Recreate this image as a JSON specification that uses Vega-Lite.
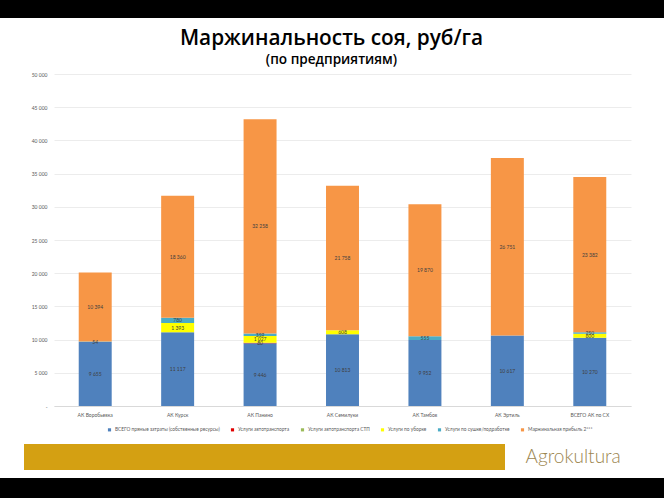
{
  "$schema": "https://vega.github.io/schema/vega-lite/v6.json",
  "background": "white",
  "padding": 0,
  "spacing": 0,
  "config": {
    "view": {"stroke": null},
    "font": "Lato",
    "locale": {"number": {"decimal": ",", "thousands": " ", "grouping": [3], "currency": ["", ""]}},
    "concat": {"spacing": 0}
  },
  "vconcat": [
    {
      "width": 664, "height": 18,
      "view": {"fill": "#000000", "stroke": null},
      "data": {"values": []},
      "mark": "text",
      "encoding": {"text": {"value": ""}}
    },
    {
      "width": 664, "height": 9,
      "data": {"values": []},
      "mark": "text",
      "encoding": {"text": {"value": ""}}
    },
    {
      "spacing": 0,
      "hconcat": [
        {
          "width": 31, "height": 10,
          "data": {"values": []},
          "mark": "text",
          "encoding": {"text": {"value": ""}}
        },
        {
          "width": 577, "height": 332,
          "title": {
            "text": "Маржинальность соя, руб/га",
            "subtitle": "(по предприятиям)",
            "anchor": "middle",
            "dx": -11,
            "font": "Open Sans",
            "fontSize": 20.8,
            "fontWeight": 600,
            "color": "#000000",
            "subtitleFont": "Open Sans",
            "subtitleFontSize": 13.6,
            "subtitleFontWeight": 600,
            "subtitleColor": "#000000",
            "subtitlePadding": 4,
            "offset": 4
          },
          "data": {
            "values": [
              {"c": "АК Воробьевка", "s": "ВСЕГО прямые затраты (собственные ресурсы)", "v": 9655, "i": 1},
              {"c": "АК Воробьевка", "s": "Услуги по сушке/подработке", "v": 54, "i": 5},
              {"c": "АК Воробьевка", "s": "Маржинальная прибыль 2***", "v": 10394, "i": 6},
              {"c": "АК Курск", "s": "ВСЕГО прямые затраты (собственные ресурсы)", "v": 11117, "i": 1},
              {"c": "АК Курск", "s": "Услуги по уборке", "v": 1393, "i": 4},
              {"c": "АК Курск", "s": "Услуги по сушке/подработке", "v": 780, "i": 5},
              {"c": "АК Курск", "s": "Маржинальная прибыль 2***", "v": 18360, "i": 6},
              {"c": "АК Панино", "s": "ВСЕГО прямые затраты (собственные ресурсы)", "v": 9446, "i": 1},
              {"c": "АК Панино", "s": "Услуги автотранспорта", "v": 80, "i": 2},
              {"c": "АК Панино", "s": "Услуги по уборке", "v": 1027, "i": 4},
              {"c": "АК Панино", "s": "Услуги по сушке/подработке", "v": 359, "i": 5},
              {"c": "АК Панино", "s": "Маржинальная прибыль 2***", "v": 32258, "i": 6},
              {"c": "АК Семилуки", "s": "ВСЕГО прямые затраты (собственные ресурсы)", "v": 10813, "i": 1},
              {"c": "АК Семилуки", "s": "Услуги по уборке", "v": 608, "i": 4},
              {"c": "АК Семилуки", "s": "Маржинальная прибыль 2***", "v": 21758, "i": 6},
              {"c": "АК Тамбов", "s": "ВСЕГО прямые затраты (собственные ресурсы)", "v": 9952, "i": 1},
              {"c": "АК Тамбов", "s": "Услуги по сушке/подработке", "v": 555, "i": 5},
              {"c": "АК Тамбов", "s": "Маржинальная прибыль 2***", "v": 19870, "i": 6},
              {"c": "АК Эртиль", "s": "ВСЕГО прямые затраты (собственные ресурсы)", "v": 10617, "i": 1},
              {"c": "АК Эртиль", "s": "Маржинальная прибыль 2***", "v": 26751, "i": 6},
              {"c": "ВСЕГО АК по СХ", "s": "ВСЕГО прямые затраты (собственные ресурсы)", "v": 10270, "i": 1},
              {"c": "ВСЕГО АК по СХ", "s": "Услуги по уборке", "v": 600, "i": 4},
              {"c": "ВСЕГО АК по СХ", "s": "Услуги по сушке/подработке", "v": 250, "i": 5},
              {"c": "ВСЕГО АК по СХ", "s": "Маржинальная прибыль 2***", "v": 23382, "i": 6}
            ]
          },
          "encoding": {
            "x": {
              "field": "c", "type": "nominal", "sort": null,
              "scale": {"paddingInner": 0.6, "paddingOuter": 0.3},
              "axis": {"title": null, "labelAngle": 0, "labelFontSize": 5, "labelColor": "#595959", "ticks": false, "domainColor": "#d9d9d9", "labelPadding": 6}
            },
            "y": {
              "field": "v", "type": "quantitative", "stack": "zero",
              "scale": {"domain": [0, 50000]},
              "axis": {"title": null, "values": [0,5000,10000,15000,20000,25000,30000,35000,40000,45000,50000], "labelExpr": "datum.value == 0 ? '-' : datum.label", "labelFontSize": 5, "labelColor": "#595959", "ticks": false, "domain": false, "gridColor": "#ececec", "labelPadding": 7}
            },
            "order": {"field": "i", "type": "quantitative"}
          },
          "layer": [
            {
              "mark": {"type": "bar"},
              "encoding": {
                "color": {
                  "field": "s", "type": "nominal",
                  "scale": {
                    "domain": ["ВСЕГО прямые затраты (собственные ресурсы)", "Услуги автотранспорта", "Услуги автотранспорта СТП", "Услуги по уборке", "Услуги по сушке/подработке", "Маржинальная прибыль 2***"],
                    "range": ["#4f81bd", "#e00000", "#9bbb59", "#ffff00", "#4bacc6", "#f79646"]
                  },
                  "legend": {
                    "title": null, "orient": "none", "legendX": 107, "legendY": 427, "direction": "horizontal",
                    "symbolType": "square", "symbolSize": 10, "labelFontSize": 4.8, "labelColor": "#595959",
                    "columnPadding": 10, "labelOffset": 3, "labelLimit": 300
                  }
                }
              }
            },
            {
              "mark": {"type": "text", "fontSize": 5, "color": "#404040"},
              "encoding": {
                "y": {"field": "v", "type": "quantitative", "stack": "zero", "bandPosition": 0.5},
                "text": {"field": "v", "type": "quantitative", "format": ","}
              }
            }
          ]
        }
      ]
    },
    {
      "width": 664, "height": 27,
      "data": {"values": []},
      "mark": "text",
      "encoding": {"text": {"value": ""}}
    },
    {
      "spacing": 0,
      "hconcat": [
        {
          "width": 24, "height": 26,
          "data": {"values": []},
          "mark": "text",
          "encoding": {"text": {"value": ""}}
        },
        {
          "width": 481, "height": 26,
          "view": {"fill": "#d4a012", "stroke": null},
          "data": {"values": []},
          "mark": "text",
          "encoding": {"text": {"value": ""}}
        },
        {
          "width": 159, "height": 26,
          "data": {"values": [{"t": "Agrokultura"}]},
          "mark": {"type": "text", "font": "Lato", "fontWeight": 300, "fontSize": 19, "color": "#9c8650", "align": "left", "dx": -59},
          "encoding": {"text": {"field": "t"}}
        }
      ]
    },
    {
      "width": 664, "height": 8,
      "data": {"values": []},
      "mark": "text",
      "encoding": {"text": {"value": ""}}
    },
    {
      "width": 664, "height": 24,
      "view": {"fill": "#000000", "stroke": null},
      "data": {"values": []},
      "mark": "text",
      "encoding": {"text": {"value": ""}}
    }
  ]
}
